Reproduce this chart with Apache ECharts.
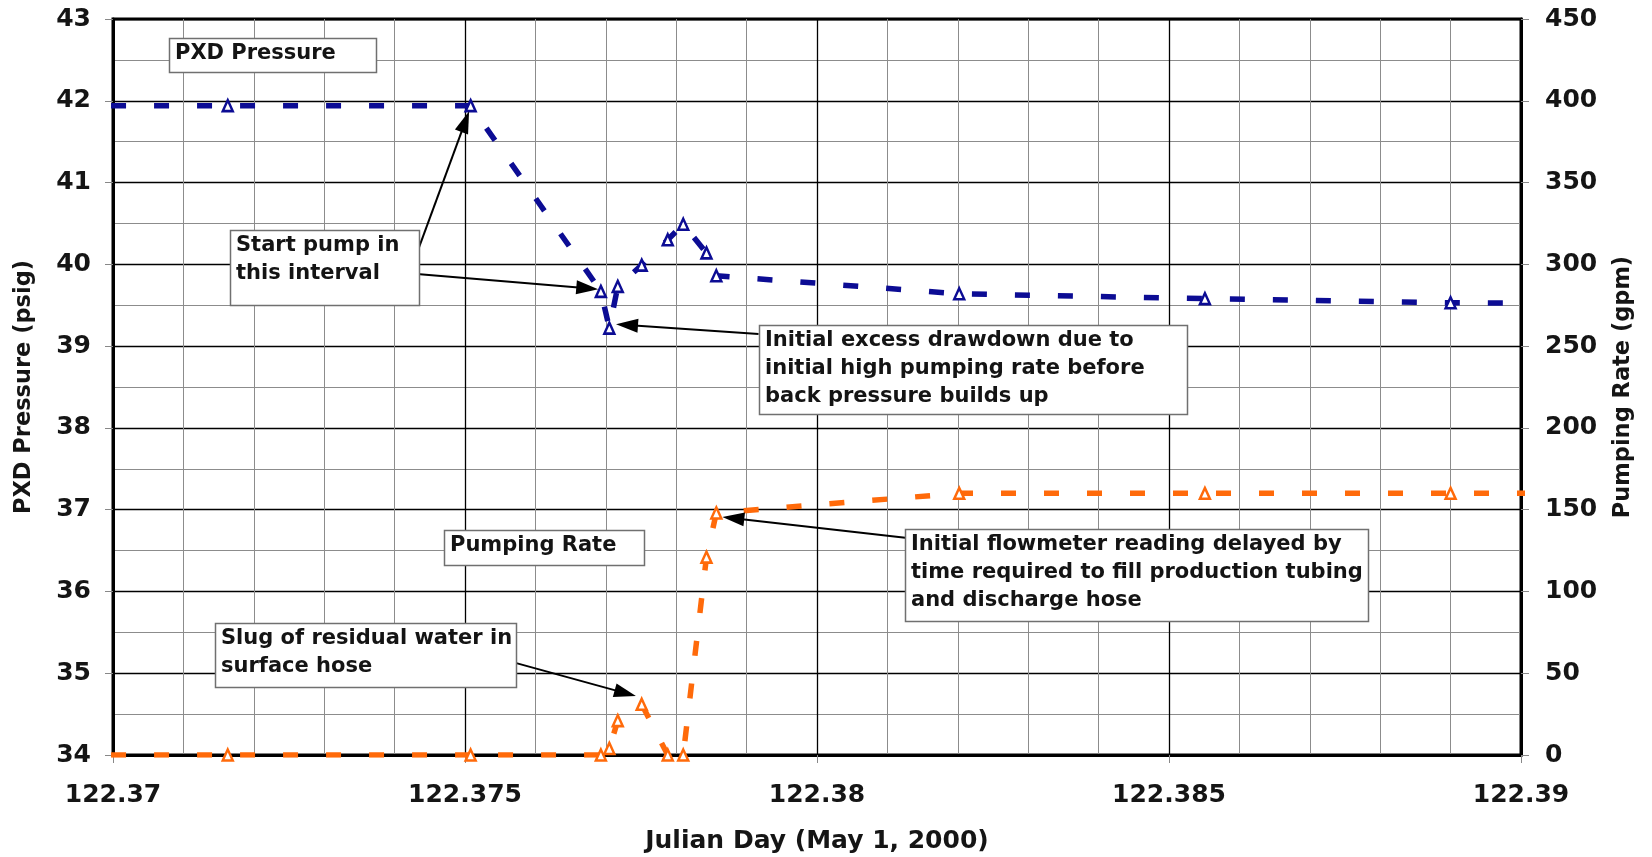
<!DOCTYPE html>
<html>
<head>
<meta charset="utf-8">
<script src="https://cdn.jsdelivr.net/npm/echarts@6/dist/echarts.min.js"></script>
<style>
html,body{margin:0;padding:0;background:#fff;}
#chart{width:1652px;height:857px;}
</style>
</head>
<body>
<div id="chart"></div>
<script>
// ---- data ----
const julianDay   = [122.36814, 122.37163, 122.37508, 122.37693, 122.37705, 122.37717, 122.37751, 122.37788, 122.3781, 122.37843, 122.37857, 122.38202, 122.38551, 122.389, 122.39249];
const pxdPressure = [41.94, 41.94, 41.94, 39.67, 39.22, 39.73, 39.99, 40.30, 40.49, 40.14, 39.86, 39.64, 39.58, 39.53, 39.52];
const pumpingRate = [0, 0, 0, 0, 4, 21, 31, 0, 0, 121, 148, 160, 160, 160, 160];
const xTickLabels = ['122.37', '122.375', '122.38', '122.385', '122.39'];
const leftTickLabels  = ['34', '35', '36', '37', '38', '39', '40', '41', '42', '43'];
const rightTickLabels = ['0', '50', '100', '150', '200', '250', '300', '350', '400', '450'];

// annotation boxes: anchor (top-left) in data coords of x / left axis
const boxes = [
  {at: [122.37079, 42.764], w: 207, h: 34, lines: ['PXD Pressure']},
  {at: [122.371656, 40.4205], w: 189, h: 75, lines: ['Start pump in', 'this interval']},
  {at: [122.37917, 39.2592], w: 428, h: 89, lines: ['Initial excess drawdown due to', 'initial high pumping rate before', 'back pressure builds up']},
  {at: [122.381254, 36.7616], w: 463, h: 92, lines: ['Initial flowmeter reading delayed by', 'time required to fill production tubing', 'and discharge hose']},
  {at: [122.374696, 36.753], w: 200, h: 35, lines: ['Pumping Rate']},
  {at: [122.371453, 35.6198], w: 301, h: 64, lines: ['Slug of residual water in', 'surface hose']}
];
// arrows: [from, to] in data coords of x / left axis
const arrows = [
  [[122.374318, 40.139], [122.375004, 41.7445]],
  [[122.374318, 39.8826], [122.376737, 39.7078]],
  [[122.37917, 39.149], [122.377301, 39.2592]],
  [[122.381254, 36.6553], [122.378811, 36.8961]],
  [[122.375729, 35.1235], [122.377277, 34.757]]
];

const FONT = '"DejaVu Sans", "Liberation Sans", Arial, sans-serif';
const BLUE = '#0c0c94';
const ORANGE = '#ff6a0a';

const chart = echarts.init(document.getElementById('chart'), null, {renderer: 'canvas'});

const pressureData = julianDay.map((d, i) => [d, pxdPressure[i]]);
const pumpData = julianDay.map((d, i) => [d, pumpingRate[i]]);

const tickLabelStyle = {color: '#151515', fontFamily: FONT, fontWeight: 'bold', fontSize: 25};

const option = {
  animation: false,
  backgroundColor: '#ffffff',
  grid: {
    left: 113, right: 131, top: 19, bottom: 102,
    show: true, borderColor: '#000', borderWidth: 3, backgroundColor: 'transparent',
    containLabel: false, outerBoundsMode: 'none'
  },
  xAxis: {
    type: 'value', min: 122.37, max: 122.39, interval: 0.005,
    name: 'Julian Day (May 1, 2000)', nameLocation: 'middle', nameGap: 74, nameMoveOverlap: false,
    nameTextStyle: {color: '#151515', fontFamily: FONT, fontWeight: 'bold', fontSize: 25},
    axisLine: {show: true, onZero: false, lineStyle: {color: '#000', width: 3}},
    axisTick: {show: true, inside: false, length: 8, lineStyle: {color: '#888', width: 1}},
    axisLabel: Object.assign({margin: 28, formatter: (v) => xTickLabels[Math.round((v - 122.37) / 0.005)] || ''}, tickLabelStyle),
    splitLine: {show: true, lineStyle: {color: '#000', width: 1.3}},
    minorTick: {show: false, splitNumber: 5},
    minorSplitLine: {show: true, lineStyle: {color: '#8c8c8c', width: 1}}
  },
  yAxis: [
    {
      type: 'value', min: 34, max: 43, interval: 1, position: 'left',
      name: 'PXD Pressure (psig)', nameLocation: 'middle', nameGap: 77, nameRotate: 90, nameMoveOverlap: false,
      nameTextStyle: {color: '#151515', fontFamily: FONT, fontWeight: 'bold', fontSize: 22.5},
      axisLine: {show: true, onZero: false, lineStyle: {color: '#000', width: 3}},
      axisTick: {show: true, inside: false, length: 8, lineStyle: {color: '#888', width: 1}},
      axisLabel: Object.assign({margin: 22, formatter: (v) => leftTickLabels[Math.round(v - 34)] || ''}, tickLabelStyle),
      splitLine: {show: true, lineStyle: {color: '#000', width: 1.3}},
      minorTick: {show: false, splitNumber: 2},
      minorSplitLine: {show: true, lineStyle: {color: '#8c8c8c', width: 1}}
    },
    {
      type: 'value', min: 0, max: 450, interval: 50, position: 'right',
      name: 'Pumping Rate (gpm)', nameLocation: 'middle', nameGap: 91, nameRotate: 90, nameMoveOverlap: false,
      nameTextStyle: {color: '#151515', fontFamily: FONT, fontWeight: 'bold', fontSize: 22.5},
      axisLine: {show: true, onZero: false, lineStyle: {color: '#000', width: 3}},
      axisTick: {show: true, inside: false, length: 8, lineStyle: {color: '#888', width: 1}},
      axisLabel: Object.assign({margin: 24, formatter: (v) => rightTickLabels[Math.round(v / 50)] || ''}, tickLabelStyle),
      splitLine: {show: false}
    }
  ],
  series: [
    {
      name: 'Pumping Rate', type: 'line', yAxisIndex: 1, data: pumpData,
      symbol: 'triangle', symbolSize: [10, 11], showSymbol: true, clip: true,
      lineStyle: {color: ORANGE, width: 5.5, type: [15, 28], cap: 'butt'},
      itemStyle: {color: '#ffffff', borderColor: ORANGE, borderWidth: 2.5},
      emphasis: {disabled: true}, z: 3
    },
    {
      name: 'PXD Pressure', type: 'line', yAxisIndex: 0, data: pressureData,
      symbol: 'triangle', symbolSize: [10, 11], showSymbol: true, clip: true,
      lineStyle: {color: BLUE, width: 5.5, type: [15, 28], cap: 'butt'},
      itemStyle: {color: '#ffffff', borderColor: BLUE, borderWidth: 2.5},
      emphasis: {disabled: true}, z: 3,
      markLine: {
        silent: true, animation: false,
        symbol: ['none', 'triangle'], symbolSize: [14, 22],
        label: {show: false},
        lineStyle: {color: '#000', width: 2, type: 'solid'},
        itemStyle: {color: '#000'},
        emphasis: {disabled: true},
        data: arrows.map(a => [{coord: a[0]}, {coord: a[1]}])
      }
    }
  ]
};
chart.setOption(option);

// annotation boxes positioned through the chart's own coordinate conversion
const graphics = [];
boxes.forEach((b) => {
  const p = chart.convertToPixel({xAxisIndex: 0, yAxisIndex: 0}, b.at);
  graphics.push({
    type: 'rect', z: 10, silent: true,
    shape: {x: Math.round(p[0]) + 0.5, y: Math.round(p[1]) + 0.5, width: b.w, height: b.h},
    style: {fill: '#ffffff', stroke: '#707070', lineWidth: 1.5}
  });
  graphics.push({
    type: 'text', z: 11, silent: true,
    x: Math.round(p[0]) + 6, y: Math.round(p[1]) + 2,
    style: {
      text: b.lines.join('\n'), fill: '#141414',
      font: 'bold 21px ' + FONT, lineHeight: 28,
      verticalAlign: 'top', align: 'left'
    }
  });
});
chart.setOption({graphic: graphics});
</script>
</body>
</html>
